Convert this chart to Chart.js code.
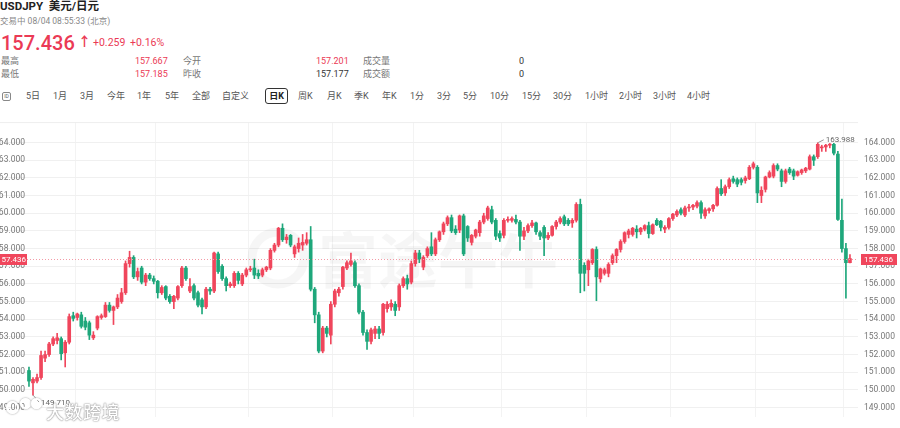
<!DOCTYPE html>
<html>
<head>
<meta charset="utf-8">
<script src="https://cdn.jsdelivr.net/npm/chart.js@4.4.1/dist/chart.umd.min.js"></script>
<style>
  body { margin: 0; width: 900px; height: 428px; overflow: hidden; background: #fff;
         font-family: Roboto, "Noto Sans CJK SC", sans-serif; position: relative; }
  .t { position: absolute; white-space: nowrap; line-height: 1; }
  .g { color: #777; font-size: 9px; }
  .r { color: #eb3a55; }
  .d { color: #333; }
  .tab { position: absolute; top: 92px; font-size: 9px; color: #555; white-space: nowrap; line-height: 1; }
  #wrap { position: absolute; left: 0; top: 111px; width: 900px; height: 317px; }
  #wm { position: absolute; left: 46px; top: 402px; font-size: 18px; font-weight: 500; color: #fff;
        font-family: "Noto Sans CJK SC", sans-serif; letter-spacing: 0.5px;
        text-shadow: 0 0 1px #777, 0 0 2px #999; line-height: 1; }
  .dot { position: absolute; border: 2px solid #fff; border-radius: 50%; box-shadow: 0 0 2px #888; }
</style>
</head>
<body>
<div class="t" style="left:0;top:1px;font-size:11.5px;font-weight:700;color:#222;">USDJPY&nbsp; 美元/日元</div>
<div class="t g" style="left:0;top:17px;font-size:8.5px;color:#888;">交易中 08/04 08:55:33 (北京)</div>
<div class="t r" style="left:1px;top:33px;font-size:20px;font-weight:500;">157.436</div>
<div class="t r" style="left:78px;top:35px;font-size:13px;font-weight:700;">↑</div>
<div class="t r" style="left:93px;top:38px;font-size:10.5px;">+0.259</div>
<div class="t r" style="left:130px;top:38px;font-size:10.5px;">+0.16%</div>

<div class="t g" style="left:1px;top:57px;">最高</div>
<div class="t r" style="left:135px;top:57px;font-size:9px;">157.667</div>
<div class="t g" style="left:183px;top:57px;">今开</div>
<div class="t r" style="left:316px;top:57px;font-size:9px;">157.201</div>
<div class="t g" style="left:363px;top:57px;">成交量</div>
<div class="t d" style="left:519px;top:57px;font-size:9px;">0</div>

<div class="t g" style="left:1px;top:70px;">最低</div>
<div class="t r" style="left:135px;top:70px;font-size:9px;">157.185</div>
<div class="t g" style="left:183px;top:70px;">昨收</div>
<div class="t d" style="left:316px;top:70px;font-size:9px;">157.177</div>
<div class="t g" style="left:363px;top:70px;">成交额</div>
<div class="t d" style="left:519px;top:70px;font-size:9px;">0</div>

<div style="position:absolute;left:2px;top:92px;width:7px;height:7px;border:1px solid #888;border-radius:2px;font-size:5px;line-height:7px;text-align:center;color:#666;">ID</div>
<div class="tab" style="left:26px">5日</div>
<div class="tab" style="left:53px">1月</div>
<div class="tab" style="left:80px">3月</div>
<div class="tab" style="left:107px">今年</div>
<div class="tab" style="left:137px">1年</div>
<div class="tab" style="left:165px">5年</div>
<div class="tab" style="left:192px">全部</div>
<div class="tab" style="left:222px">自定义</div>
<div style="position:absolute;left:265px;top:88px;width:23px;height:16px;border:1px solid #333;border-radius:3px;box-sizing:border-box;font-size:9px;font-weight:700;color:#222;text-align:center;line-height:14px;">日K</div>
<div class="tab" style="left:298px">周K</div>
<div class="tab" style="left:327px">月K</div>
<div class="tab" style="left:354px">季K</div>
<div class="tab" style="left:382px">年K</div>
<div class="tab" style="left:410px">1分</div>
<div class="tab" style="left:437px">3分</div>
<div class="tab" style="left:463px">5分</div>
<div class="tab" style="left:490px">10分</div>
<div class="tab" style="left:522px">15分</div>
<div class="tab" style="left:553px">30分</div>
<div class="tab" style="left:585px">1小时</div>
<div class="tab" style="left:619px">2小时</div>
<div class="tab" style="left:653px">3小时</div>
<div class="tab" style="left:687px">4小时</div>

<div id="wrap"><canvas id="c" width="900" height="317"></canvas></div>
<div class="dot" style="left:6px;top:401px;width:9px;height:9px;"></div>
<div class="dot" style="left:20px;top:398px;width:7px;height:7px;"></div>
<div class="dot" style="left:31px;top:398px;width:7px;height:7px;"></div>
<div id="wm">大数跨境</div>

<script>
// daily USDJPY candles, oldest first
const opens = [
  151.1,150.4,150.5,150.7,151.8,152.0,152.6,152.8,152.9,152.1,
  152.7,154.2,154.1,154.25,153.9,153.8,152.95,153.5,154.1,154.15,
  154.8,154.5,154.7,155.0,155.5,157.15,157.5,156.4,156.9,156.1,
  156.5,156.3,156.15,155.5,155.85,155.3,155.0,155.2,155.9,156.9,
  155.6,155.9,155.5,155.1,154.7,155.7,155.6,157.7,157.0,156.3,
  155.9,155.9,156.6,156.0,156.5,156.8,156.9,156.6,156.5,156.8,
  156.9,157.9,158.2,159.15,158.5,158.75,157.7,158.0,158.2,158.3,
  158.5,155.7,154.25,152.2,153.5,153.1,154.85,155.5,155.85,156.9,
  157.1,157.2,155.9,154.4,153.25,152.75,153.2,153.45,153.25,154.6,
  154.7,154.85,154.7,155.9,156.3,156.1,157.15,157.75,156.95,157.6,
  158.1,157.7,158.5,158.95,159.4,159.75,159.1,159.05,159.85,159.25,
  158.35,158.7,158.9,159.5,159.7,160.2,159.6,158.85,158.75,159.6,
  159.6,159.65,159.5,158.7,159.0,159.3,159.45,158.9,159.2,158.6,
  158.75,159.25,159.5,159.8,159.6,159.45,159.6,160.5,157.05,156.8,
  157.2,157.95,156.3,156.6,156.6,157.2,157.6,157.95,158.4,158.8,
  158.8,159.1,158.95,159.1,159.3,158.85,159.6,159.55,159.1,159.2,
  159.7,159.9,160.2,159.9,160.3,160.35,160.4,160.6,159.85,160.15,
  160.25,160.45,161.4,161.15,161.5,161.95,161.9,161.9,161.85,161.95,
  162.6,162.6,161.0,161.35,162.05,162.1,162.7,162.4,161.8,162.5,
  162.4,162.15,162.3,162.4,162.5,163.2,163.2,163.7,163.75,163.85,
  163.9,163.35,159.6,158.0,157.201
];
const highs = [
  151.3,150.7,150.9,152.2,152.2,152.7,153.0,153.2,153.0,152.8,
  154.3,154.4,154.35,154.4,154.1,153.9,153.3,154.2,154.3,154.95,
  154.95,154.75,155.4,155.75,157.3,157.85,157.6,156.9,157.0,156.6,
  156.6,156.45,156.2,155.9,155.9,155.4,155.35,155.9,157.0,157.0,
  156.3,156.0,155.6,155.2,155.8,155.8,157.8,157.8,157.1,156.4,
  156.1,156.7,156.7,156.6,156.9,157.0,157.4,156.8,156.9,157.0,
  158.0,158.3,159.2,159.4,158.8,158.8,158.2,158.6,158.8,158.9,
  159.25,155.8,154.4,153.6,153.6,155.0,155.7,155.8,157.0,157.3,
  157.75,157.3,156.0,154.5,153.4,153.5,153.6,153.6,154.9,155.0,
  155.1,155.0,156.0,156.4,156.5,157.3,157.9,157.9,157.6,158.1,
  158.9,158.6,159.0,159.5,159.85,159.9,159.3,159.9,159.95,159.3,
  158.8,159.1,159.6,160.0,160.4,160.4,159.7,159.0,159.7,159.8,
  159.8,159.9,159.6,159.2,159.4,159.6,159.5,159.0,159.3,158.9,
  159.3,159.6,159.8,159.9,159.7,159.7,160.6,160.8,157.2,157.4,
  158.0,158.1,156.9,156.9,157.2,157.7,158.0,158.5,158.95,159.1,
  159.2,159.3,159.2,159.35,159.5,159.4,159.7,159.6,159.3,159.75,
  160.0,160.2,160.3,160.4,160.5,160.5,160.7,160.7,160.3,160.3,
  160.5,161.5,161.9,161.6,162.0,162.1,162.0,162.0,162.1,162.7,
  162.9,162.7,161.5,162.1,162.4,162.8,162.8,162.5,162.5,162.6,
  162.5,162.4,162.5,162.6,163.3,163.3,163.988,163.85,163.9,163.95,
  163.95,163.5,160.8,158.3,157.667
];
const lows = [
  150.2,149.71,150.4,150.6,151.6,151.9,152.5,152.6,151.7,151.3,
  152.6,153.9,153.95,153.5,153.4,152.85,152.85,153.4,154.0,154.1,
  154.4,153.7,154.6,154.9,155.4,156.95,156.3,156.2,156.0,155.9,
  156.2,156.0,155.2,155.4,155.1,154.9,154.6,155.1,155.8,156.2,
  155.5,155.1,154.7,154.3,154.6,155.4,155.5,156.6,156.2,155.6,
  155.8,155.8,156.0,155.9,156.4,156.7,156.3,156.3,156.4,156.7,
  156.8,157.8,158.1,158.4,158.3,158.1,157.5,157.8,157.9,158.2,
  155.6,153.8,152.1,152.1,153.0,152.6,154.7,155.3,155.7,156.8,
  157.0,155.8,154.3,153.1,152.3,152.6,152.9,152.9,153.1,154.4,
  154.5,154.2,154.5,155.8,155.7,156.0,157.0,157.2,156.8,157.5,
  157.6,157.6,158.4,158.8,159.3,158.9,158.8,158.9,157.6,158.4,
  158.2,158.6,158.7,159.4,159.6,159.4,158.5,158.4,158.6,159.5,
  159.5,159.4,157.9,158.5,158.9,159.2,158.8,158.5,157.6,158.5,
  158.7,159.1,159.4,159.3,159.3,159.2,159.5,155.5,155.6,155.9,
  157.1,155.05,156.1,156.5,156.4,157.1,157.2,157.8,158.3,158.6,
  158.7,158.6,158.8,159.0,158.6,158.8,159.3,159.0,158.9,159.1,
  159.6,159.8,159.9,159.8,160.1,160.2,160.3,159.7,159.7,160.0,
  160.1,160.4,161.0,161.0,161.4,161.7,161.5,161.6,161.7,161.9,
  162.5,160.6,160.6,161.2,162.0,162.0,162.4,161.5,161.7,162.2,
  161.9,162.1,162.2,162.3,162.45,162.7,163.1,163.5,163.5,163.7,
  163.3,159.6,157.8,155.2,157.185
];
const closes = [
  150.5,150.6,150.7,151.95,152.0,152.6,152.9,152.95,152.05,152.7,
  154.15,154.05,154.3,153.6,153.55,153.1,153.1,154.15,154.2,154.8,
  154.5,154.7,155.2,155.5,157.15,157.5,156.4,156.7,156.1,156.5,
  156.3,156.15,155.5,155.8,155.2,155.0,155.3,155.85,156.9,156.3,
  155.85,155.2,154.8,154.7,155.7,155.6,157.75,156.7,156.3,155.9,
  156.0,156.6,156.2,156.5,156.8,156.85,156.5,156.45,156.8,156.95,
  157.9,158.2,159.15,158.5,158.65,158.2,158.1,158.3,158.35,158.5,
  155.7,154.25,152.2,153.5,153.2,154.85,155.6,155.7,156.95,157.2,
  157.3,155.9,154.4,153.25,152.75,153.4,153.45,153.2,154.85,154.85,
  154.9,154.5,155.9,156.3,156.0,157.15,157.75,157.4,157.5,158.0,
  157.7,158.5,158.95,159.4,159.75,159.0,158.9,159.85,157.7,158.6,
  158.75,159.05,159.5,159.85,160.3,159.5,158.7,158.6,159.6,159.65,
  159.7,159.5,158.7,159.0,159.3,159.45,158.95,158.7,158.6,158.75,
  159.25,159.5,159.7,159.4,159.4,159.6,160.5,156.6,156.6,157.3,
  157.95,156.4,156.85,156.8,157.1,157.6,157.95,158.4,158.9,159.0,
  159.15,158.95,159.15,159.3,158.85,159.35,159.35,159.2,159.2,159.7,
  159.95,160.1,160.0,160.3,160.35,160.45,160.6,160.0,160.2,160.25,
  160.45,161.4,161.1,161.5,161.9,161.8,161.65,161.75,162.0,162.6,
  162.8,161.15,161.3,162.05,162.3,162.7,162.5,161.8,162.4,162.3,
  162.1,162.35,162.45,162.55,163.2,163.0,163.9,163.75,163.85,163.9,
  163.4,159.65,158.0,157.2,157.436
];
const yTicks = [149,150,151,152,153,154,155,156,157,158,159,160,161,162,163,164];
const monthStarts = [11.5, 31.5, 54.5, 75.5, 95.5, 117.5, 138.5, 159.5, 180.5, 202.5];
const lastPrice = 157.436;

const UP = '#f0465c', DOWN = '#1ea77b';
const colors = opens.map((o, i) => closes[i] >= o ? UP : DOWN);
const wickData = opens.map((o, i) => ({ x: i, y: [lows[i], highs[i]] }));
const bodyData = opens.map((o, i) => ({ x: i, y: [o, closes[i]] }));

const overlay = {
  id: 'overlay',
  beforeDatasetsDraw(chart) {
    const { ctx, chartArea: a } = chart;
    ctx.save();
    // faint brand watermark
    ctx.fillStyle = 'rgba(0,0,0,0.035)';
    ctx.strokeStyle = 'rgba(0,0,0,0.035)';
    ctx.lineWidth = 9;
    ctx.beginPath();
    ctx.arc(278, 147, 26, 0, Math.PI * 2);
    ctx.stroke();
    ctx.font = '700 60px "Noto Sans CJK SC"';
    ctx.textBaseline = 'middle';
    ctx.fillText('富途牛牛', 318, 149);
    // top separator
    ctx.strokeStyle = '#eeeeee';
    ctx.lineWidth = 1;
    ctx.beginPath();
    ctx.moveTo(0, a.top + 0.5);
    ctx.lineTo(a.right, a.top + 0.5);
    ctx.stroke();
    ctx.restore();
  },
  afterDatasetsDraw(chart) {
    const { ctx, chartArea: a, scales: { x, y } } = chart;
    ctx.save();
    // left-hand price labels
    ctx.font = '8.5px Roboto';
    ctx.fillStyle = '#777';
    ctx.textAlign = 'right';
    ctx.textBaseline = 'middle';
    yTicks.forEach(v => ctx.fillText(v.toFixed(3), 25, y.getPixelForValue(v)));

    // last price dotted line
    const py = Math.round(y.getPixelForValue(lastPrice)) + 0.5;
    ctx.strokeStyle = '#f39aa6';
    ctx.setLineDash([1, 2]);
    ctx.beginPath();
    ctx.moveTo(0, py);
    ctx.lineTo(a.right, py);
    ctx.stroke();
    ctx.setLineDash([]);
    ctx.fillStyle = UP;
    ctx.fillRect(a.right + 3, py - 5.5, 36, 11);
    ctx.fillRect(0, py - 5.5, 27, 11);
    ctx.fillStyle = '#fff';
    ctx.font = '8px Roboto';
    ctx.textAlign = 'left';
    ctx.fillText(lastPrice.toFixed(3), a.right + 6, py + 0.5);
    ctx.textAlign = 'right';
    ctx.fillText(lastPrice.toFixed(3), 26, py + 0.5);

    // highest high / lowest low markers
    const hi = Math.max(...highs), hiIdx = highs.indexOf(hi);
    const lo = Math.min(...lows), loIdx = lows.indexOf(lo);
    ctx.strokeStyle = '#999';
    ctx.fillStyle = '#666';
    ctx.font = '8px Roboto';
    ctx.textAlign = 'left';
    let hx = x.getPixelForValue(hiIdx), hy = y.getPixelForValue(hi);
    ctx.beginPath();
    ctx.moveTo(hx, hy);
    ctx.lineTo(hx + 6, hy - 3);
    ctx.stroke();
    ctx.fillText(hi.toFixed(3), hx + 8, hy - 3);
    let lx = x.getPixelForValue(loIdx), ly = y.getPixelForValue(lo);
    ctx.beginPath();
    ctx.moveTo(lx, ly);
    ctx.lineTo(lx + 6, ly + 7);
    ctx.stroke();
    ctx.fillText(lo.toFixed(3), lx + 8, ly + 8);
    ctx.restore();
  }
};

new Chart(document.getElementById('c'), {
  type: 'bar',
  data: {
    datasets: [
      { data: wickData, backgroundColor: colors, barThickness: 1, grouped: false, order: 2 },
      { data: bodyData, backgroundColor: colors, barThickness: 3, grouped: false, minBarLength: 1, order: 1 }
    ]
  },
  options: {
    responsive: false,
    animation: false,
    layout: { padding: 0, autoPadding: false },
    plugins: { legend: { display: false }, tooltip: { enabled: false } },
    scales: {
      x: {
        type: 'linear', min: -7.2, max: 206, offset: false,
        grid: { color: '#f3f3f3', drawTicks: false, offset: false },
        border: { display: false },
        ticks: { display: false },
        afterBuildTicks: s => { s.ticks = monthStarts.map(v => ({ value: v })); }
      },
      y: {
        position: 'right', min: 148.474, max: 165.158,
        grid: { color: '#f0f0f0', drawTicks: false },
        border: { display: false },
        ticks: { padding: 6, color: '#777', font: { size: 8.5, family: 'Roboto' }, callback: v => v.toFixed(3) },
        afterBuildTicks: s => { s.ticks = yTicks.map(v => ({ value: v })); },
        afterFit: s => { s.width = 42; }
      }
    }
  },
  plugins: [overlay]
});
</script>
</body>
</html>
